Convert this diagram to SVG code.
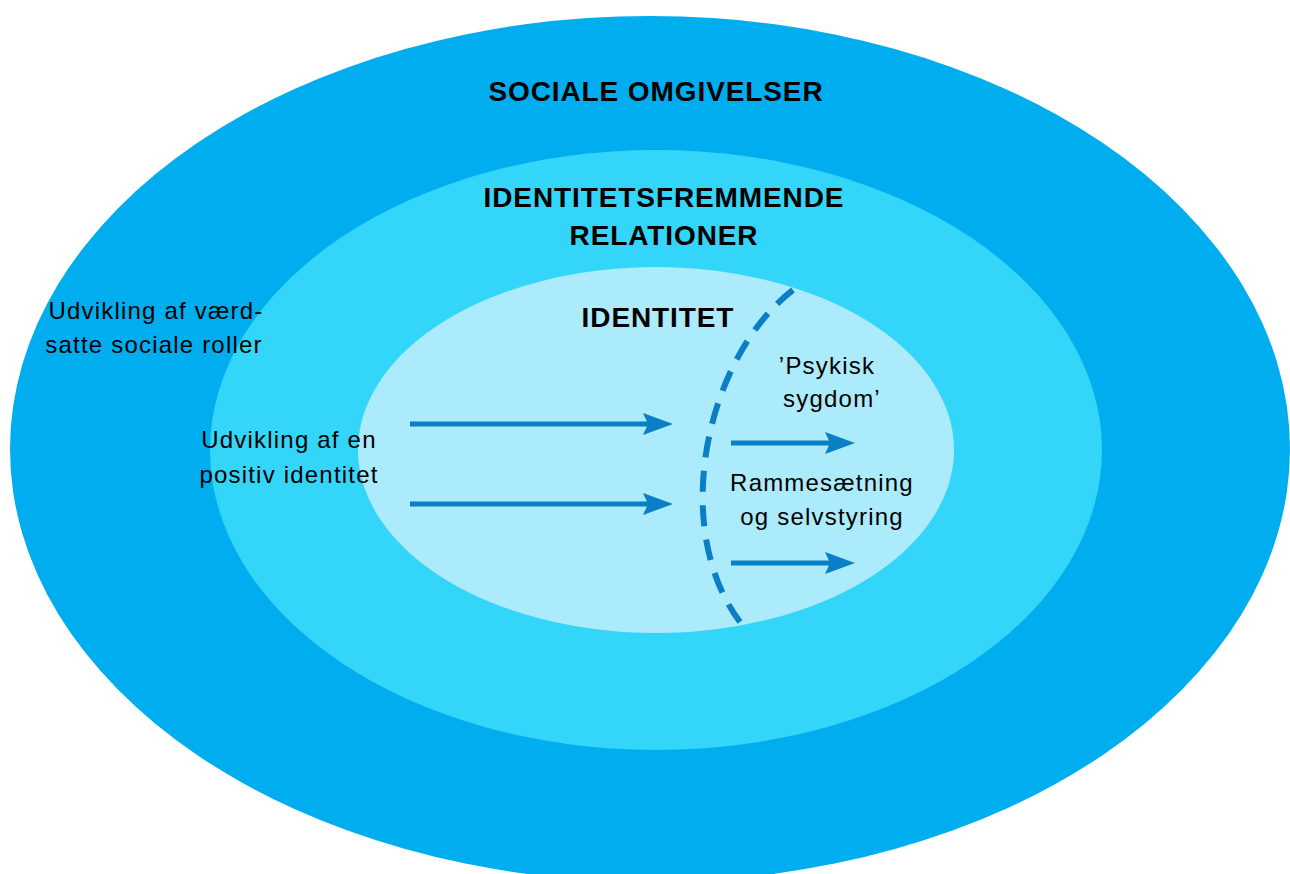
<svg xmlns="http://www.w3.org/2000/svg" width="1290" height="874" viewBox="0 0 1290 874">
<style>
.title{font-family:"Liberation Sans",Arial,sans-serif;font-weight:bold;font-size:28px;fill:#000;text-anchor:middle;letter-spacing:0.9px}
.lbl{font-family:"Liberation Sans",Arial,sans-serif;font-size:24px;fill:#000;text-anchor:middle;letter-spacing:1.2px}
.arrow{stroke:#0A7FC6;stroke-width:5;fill:none}
</style>
<defs>
<marker id="ah" viewBox="0 0 30 22" refX="5" refY="11" markerWidth="30" markerHeight="22" markerUnits="userSpaceOnUse" orient="auto">
<path d="M0,0 L30,11 L0,22 L5,11 Z" fill="#0A7FC6"/>
</marker>
</defs>
<rect width="1290" height="874" fill="#fff"/>
<g id="sociale-omgivelser">
<ellipse cx="650" cy="449" rx="640" ry="433" fill="#00AEEF"/>
<text class="title" x="656" y="101">SOCIALE OMGIVELSER</text>
</g>
<g id="identitetsfremmende-relationer">
<ellipse cx="656" cy="450" rx="446" ry="300" fill="#33D5F8"/>
<text class="title" x="664" y="207">IDENTITETSFREMMENDE</text>
<text class="title" x="664" y="245">RELATIONER</text>
</g>
<g id="identitet">
<ellipse cx="656" cy="450" rx="298" ry="183" fill="#ABEBFB"/>
<text class="title" x="658" y="327">IDENTITET</text>
</g>
<g id="label-roller">
<text class="lbl" x="156" y="319">Udvikling af værd-</text>
<text class="lbl" x="154" y="353">satte sociale roller</text>
</g>
<g id="label-positiv">
<text class="lbl" x="289" y="448">Udvikling af en</text>
<text class="lbl" x="289" y="483">positiv identitet</text>
</g>
<g id="label-psykisk">
<text class="lbl" x="827" y="374">’Psykisk</text>
<text class="lbl" x="832" y="407">sygdom’</text>
</g>
<g id="label-ramme">
<text class="lbl" x="822" y="491">Rammesætning</text>
<text class="lbl" x="822" y="525">og selvstyring</text>
</g>
<g id="connectors">
<path class="arrow" d="M410,424 L648,424" marker-end="url(#ah)"/>
<path class="arrow" d="M410,504 L648,504" marker-end="url(#ah)"/>
<path class="arrow" d="M731,443 L830,443" marker-end="url(#ah)"/>
<path class="arrow" d="M731,563 L830,563" marker-end="url(#ah)"/>
<path d="M793,290 C708,355 668,525 740,622" pathLength="100" fill="none" stroke="#0A7FC6" stroke-width="6" stroke-dasharray="5.76 3.665"/>
</g>
</svg>
